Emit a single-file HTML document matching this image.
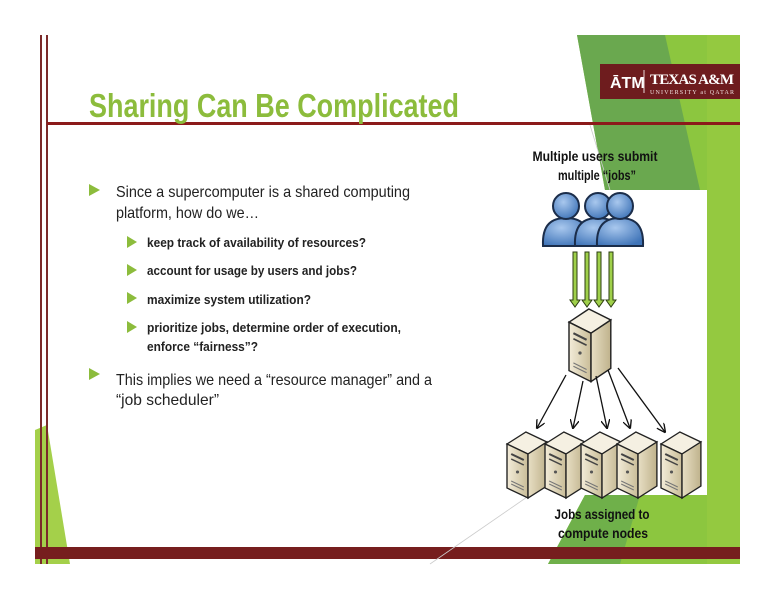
<!DOCTYPE html>
<html><head><meta charset="utf-8"><style>
html,body{margin:0;padding:0;background:#fff;}
svg{display:block;}
text{font-family:"Liberation Sans Narrow","Liberation Sans",sans-serif;}
</style></head><body>
<svg width="776" height="600" viewBox="0 0 776 600" xmlns="http://www.w3.org/2000/svg">
<defs>
<linearGradient id="srv" x1="0" x2="1"><stop offset="0" stop-color="#f3ecd9"/><stop offset="1" stop-color="#c9bd98"/></linearGradient>
<linearGradient id="side" x1="0" x2="1"><stop offset="0" stop-color="#e8dfc4"/><stop offset="1" stop-color="#bfb28c"/></linearGradient>
<radialGradient id="usr" cx="0.4" cy="0.35" r="0.7"><stop offset="0" stop-color="#a9c8ee"/><stop offset="1" stop-color="#3f74b8"/></radialGradient>
<g id="server">
  <polygon points="0,12 18,0 38,10 20,22" fill="#f5f0e2" stroke="#222" stroke-width="1.3"/>
  <polygon points="0,12 20,22 20,66 0,56" fill="url(#srv)" stroke="#222" stroke-width="1.3"/>
  <polygon points="20,22 38,10 38,54 20,66" fill="url(#side)" stroke="#222" stroke-width="1.3"/>
  <line x1="4" y1="22" x2="16" y2="28" stroke="#444" stroke-width="2"/>
  <line x1="4" y1="27" x2="16" y2="33" stroke="#444" stroke-width="1.5"/>
  <circle cx="10" cy="40" r="1.5" fill="#555"/>
  <line x1="4" y1="49" x2="16" y2="55" stroke="#777"/>
  <line x1="4" y1="52" x2="16" y2="58" stroke="#777"/>
</g>
<g id="user">
  <path d="M-23,36 C-24,14 -14,8 0,8 C14,8 24,14 23,36 Z" fill="url(#usr)" stroke="#1b2d4a" stroke-width="2"/>
  <circle cx="0" cy="-4" r="13" fill="url(#usr)" stroke="#1b2d4a" stroke-width="2"/>
</g>
<marker id="ah" viewBox="0 0 10 10" refX="9" refY="5" markerWidth="7" markerHeight="7" orient="auto"><path d="M0,0 L10,5 L0,10" fill="none" stroke="#111" stroke-width="1.5"/></marker>
</defs>

<!-- right green decoration -->
<polygon points="577,35 740,35 740,564 548,564 585,495 605,190" fill="#8cc63f"/>
<polygon points="577,35 665,35 700,190 605,190" fill="#6aa84f"/>
<polygon points="548,564 585,495 640,495 620,564" fill="#6fb04a"/>
<rect x="707" y="35" width="33" height="529" fill="#94c940"/>
<!-- left green -->
<polygon points="35,430 35,564 70,564 47,425" fill="#a4d04a"/>

<!-- white panel -->
<rect x="505" y="190" width="202" height="305" fill="#fff"/>

<!-- logo -->
<rect x="600" y="64" width="140" height="35" fill="#6e1c1e"/>
<text x="610" y="88" font-size="16" font-weight="bold" fill="#fff">ĀTM</text>
<line x1="644" y1="70" x2="644" y2="93" stroke="#e8d8d8" stroke-width="1"/>
<text x="650" y="84" font-size="15" font-weight="bold" fill="#fff" textLength="84" style="font-family:'Liberation Serif',serif">TEXAS A&amp;M</text>
<text x="650" y="94" font-size="6" fill="#f0e0e0" textLength="84" style="font-family:'Liberation Serif',serif">UNIVERSITY at QATAR</text>

<!-- lines -->
<rect x="40" y="35" width="2" height="529" fill="#7b2a2a"/>
<rect x="46" y="35" width="2" height="529" fill="#7b2a2a"/>
<rect x="47" y="122" width="693" height="3" fill="#8b1a1a"/>
<rect x="35" y="547" width="705" height="12" fill="#761e1e"/>
<line x1="590" y1="125" x2="610" y2="190" stroke="#ccc" stroke-width="0.8"/>
<line x1="430" y1="564" x2="530" y2="495" stroke="#ccc" stroke-width="0.8"/>

<!-- title -->
<text x="89" y="117" font-size="33" font-weight="bold" fill="#8cbc3c" textLength="370" lengthAdjust="spacingAndGlyphs">Sharing Can Be Complicated</text>

<!-- bullets -->
<g fill="#8cbc3c">
<polygon points="89,184 100,190 89,196"/>
<polygon points="89,368 100,374 89,380"/>
<polygon points="127,236 137,242 127,248"/>
<polygon points="127,264 137,270 127,276"/>
<polygon points="127,292 137,298 127,304"/>
<polygon points="127,321 137,327 127,333"/>
</g>
<g fill="#222" font-size="16">
<text x="116" y="197" textLength="294" lengthAdjust="spacingAndGlyphs">Since a supercomputer is a shared computing</text>
<text x="116" y="218" textLength="143" lengthAdjust="spacingAndGlyphs">platform, how do we…</text>
<text x="116" y="385" textLength="316" lengthAdjust="spacingAndGlyphs">This implies we need a “resource manager” and a</text>
<text x="116" y="405" textLength="103" lengthAdjust="spacingAndGlyphs">“job scheduler”</text>
</g>
<g fill="#222" font-size="13" font-weight="bold">
<text x="147" y="247" textLength="219" lengthAdjust="spacingAndGlyphs">keep track of availability of resources?</text>
<text x="147" y="275" textLength="210" lengthAdjust="spacingAndGlyphs">account for usage by users and jobs?</text>
<text x="147" y="304" textLength="164" lengthAdjust="spacingAndGlyphs">maximize system utilization?</text>
<text x="147" y="332" textLength="254" lengthAdjust="spacingAndGlyphs">prioritize jobs, determine order of execution,</text>
<text x="147" y="351" textLength="111" lengthAdjust="spacingAndGlyphs">enforce “fairness”?</text>
</g>

<!-- diagram labels -->
<g fill="#111" font-size="14" font-weight="bold" text-anchor="middle">
<text x="595" y="161" textLength="125" lengthAdjust="spacingAndGlyphs">Multiple users submit</text>
<text x="597" y="180" textLength="78" lengthAdjust="spacingAndGlyphs">multiple “jobs”</text>
<text x="602" y="519" textLength="95" lengthAdjust="spacingAndGlyphs">Jobs assigned to</text>
<text x="603" y="538" textLength="90" lengthAdjust="spacingAndGlyphs">compute nodes</text>
</g>

<!-- users -->
<use href="#user" x="566" y="210"/>
<use href="#user" x="598" y="210"/>
<use href="#user" x="620" y="210"/>

<!-- green arrows -->
<g fill="#9fd04a" stroke="#2b3d10" stroke-width="1">
<polygon points="573,252 577,252 577,300 580,300 575,307 570,300 573,300"/>
<polygon points="585,252 589,252 589,300 592,300 587,307 582,300 585,300"/>
<polygon points="597,252 601,252 601,300 604,300 599,307 594,300 597,300"/>
<polygon points="609,252 613,252 613,300 616,300 611,307 606,300 609,300"/>
</g>

<!-- central server -->
<use href="#server" x="569" y="309" transform="translate(569,309) scale(1.1) translate(-569,-309)"/>

<!-- black arrows -->
<g stroke="#111" stroke-width="1.3" fill="none" marker-end="url(#ah)">
<line x1="566" y1="375" x2="537" y2="428"/>
<line x1="583" y1="381" x2="573" y2="428"/>
<line x1="596" y1="376" x2="607" y2="428"/>
<line x1="608" y1="370" x2="630" y2="428"/>
<line x1="618" y1="368" x2="665" y2="432"/>
</g>

<!-- compute nodes -->
<use href="#server" x="507" y="432" transform="translate(507,432) scale(1.05,1) translate(-507,-432)"/>
<use href="#server" x="545" y="432" transform="translate(545,432) scale(1.05,1) translate(-545,-432)"/>
<use href="#server" x="581" y="432" transform="translate(581,432) scale(1.05,1) translate(-581,-432)"/>
<use href="#server" x="617" y="432" transform="translate(617,432) scale(1.05,1) translate(-617,-432)"/>
<use href="#server" x="661" y="432" transform="translate(661,432) scale(1.05,1) translate(-661,-432)"/>
</svg>
</body></html>
